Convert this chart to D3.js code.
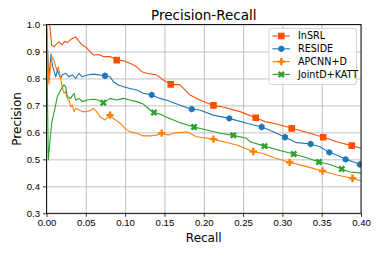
<!DOCTYPE html>
<html>
<head>
<meta charset="utf-8">
<script src="https://d3js.org/d3.v7.min.js"></script>
<style>
  body { margin: 0; background: #fff; }
  svg { font-family: "DejaVu Sans", sans-serif; }
  .grid line { stroke: #b0b0b0; stroke-width: 0.8; }
  .grid .domain { stroke: none; }
  .axis text { font-size: 9.6px; fill: #000; }
  .axis line { stroke: #000; stroke-width: 0.8; }
  .axis .domain { stroke: none; }
</style>
</head>
<body>
<svg id="chart" width="382" height="254"></svg>
<script>
// series data: [recall, precision]
const seriesNames = ['InSRL', 'RESIDE', 'APCNN+D', 'JointD+KATT'];
const seriesColors = ['#ff4f00', '#1f77b4', '#ff7f0e', '#2ca02c'];
const seriesSymbols = ['square', 'hexagon', 'plus', 'x'];

const insrl = [[0,1.0],[0.004,1.0],[0.0066,0.923],[0.0095,0.917],[0.013,0.929],[0.0159,0.935],[0.0201,0.925],
  [0.0231,0.938],[0.0265,0.933],[0.0308,0.945],[0.0371,0.954],[0.0404,0.941],[0.0455,0.923],[0.0499,0.917],
  [0.054,0.904],[0.0595,0.887],[0.0659,0.889],[0.0722,0.881],[0.0808,0.881],[0.0893,0.868],[0.0977,0.866],
  [0.1062,0.856],[0.1147,0.843],[0.1211,0.825],[0.1274,0.819],[0.1402,0.813],[0.1486,0.794],[0.158,0.778],
  [0.1698,0.776],[0.1825,0.739],[0.195,0.720],[0.2124,0.700],[0.2245,0.694],[0.2462,0.677],[0.2661,0.654],
  [0.2779,0.640],[0.2881,0.635],[0.3119,0.615],[0.3352,0.597],[0.352,0.582],[0.3691,0.565],[0.3882,0.551],[0.4,0.541]];
const insrlMarks = [[0.0893,0.868],[0.158,0.778],[0.2124,0.700],[0.2661,0.654],[0.3119,0.615],[0.352,0.582],[0.3882,0.551]];

const reside = [[0,1.0],[0.003,0.794],[0.0057,0.891],[0.0074,0.850],[0.0117,0.806],[0.0138,0.831],[0.018,0.800],
  [0.020,0.813],[0.0244,0.819],[0.0286,0.806],[0.0328,0.813],[0.0371,0.800],[0.0413,0.819],[0.0455,0.806],
  [0.0519,0.813],[0.0604,0.816],[0.0744,0.810],[0.0808,0.806],[0.085,0.788],[0.0913,0.776],[0.0977,0.769],
  [0.1062,0.763],[0.1147,0.757],[0.1231,0.745],[0.1338,0.739],[0.1444,0.726],[0.1549,0.717],[0.1698,0.701],
  [0.1847,0.686],[0.195,0.683],[0.2121,0.664],[0.2325,0.652],[0.2546,0.634],[0.2737,0.620],[0.2885,0.602],
  [0.3033,0.582],[0.3182,0.562],[0.336,0.557],[0.3479,0.547],[0.3597,0.526],[0.3691,0.516],[0.3805,0.500],
  [0.3924,0.488],[0.4,0.479]];
const resideMarks = [[0.0744,0.810],[0.1338,0.739],[0.1847,0.686],[0.2325,0.652],[0.2737,0.620],[0.3033,0.582],
  [0.336,0.557],[0.3597,0.526],[0.3805,0.500],[0.3985,0.481]];

const apcnn = [[0,1.0],[0.003,0.78],[0.0066,0.881],[0.0095,0.868],[0.013,0.831],[0.015,0.843],[0.018,0.800],
  [0.020,0.769],[0.0223,0.745],[0.0244,0.751],[0.0265,0.726],[0.0286,0.720],[0.0308,0.695],[0.0328,0.701],
  [0.035,0.677],[0.0371,0.689],[0.0413,0.683],[0.0455,0.677],[0.0511,0.677],[0.0562,0.681],[0.0595,0.689],
  [0.0638,0.677],[0.068,0.658],[0.0744,0.646],[0.0808,0.664],[0.085,0.652],[0.0935,0.634],[0.0998,0.615],
  [0.1062,0.602],[0.1147,0.597],[0.1231,0.587],[0.1316,0.587],[0.1402,0.590],[0.1465,0.597],[0.1549,0.590],
  [0.1613,0.597],[0.1783,0.602],[0.191,0.584],[0.199,0.581],[0.2124,0.575],[0.2249,0.565],[0.2419,0.553],
  [0.263,0.529],[0.2757,0.522],[0.2885,0.507],[0.3093,0.489],[0.331,0.473],[0.351,0.457],[0.3691,0.442],
  [0.3892,0.430],[0.4,0.420]];
const apcnnMarks = [[0.0808,0.664],[0.1465,0.597],[0.2124,0.575],[0.263,0.529],[0.3093,0.489],[0.351,0.457],[0.3892,0.430]];

const jointd = [[0,1.0],[0.0023,0.498],[0.0045,0.572],[0.0066,0.634],[0.0108,0.690],[0.0137,0.732],[0.018,0.757],
  [0.0223,0.776],[0.0244,0.769],[0.0265,0.732],[0.0308,0.726],[0.035,0.745],[0.0371,0.720],[0.0413,0.726],
  [0.0455,0.714],[0.0519,0.720],[0.0604,0.723],[0.0655,0.720],[0.0723,0.710],[0.0808,0.726],[0.0893,0.720],
  [0.0977,0.726],[0.1062,0.720],[0.1147,0.714],[0.1231,0.705],[0.1316,0.683],[0.1367,0.674],[0.1444,0.668],
  [0.1529,0.656],[0.1698,0.636],[0.1876,0.620],[0.2038,0.609],[0.2208,0.597],[0.2376,0.589],[0.2546,0.578],
  [0.2589,0.565],[0.2773,0.549],[0.297,0.533],[0.3144,0.520],[0.331,0.506],[0.3466,0.490],[0.3606,0.481],
  [0.3755,0.464],[0.3861,0.453],[0.4,0.449]];
const jointdMarks = [[0.0723,0.710],[0.1367,0.674],[0.1876,0.620],[0.2376,0.589],[0.2773,0.549],[0.3144,0.520],
  [0.3466,0.490],[0.3755,0.464]];

const xTicks = [0, 0.05, 0.1, 0.15, 0.2, 0.25, 0.3, 0.35, 0.4];
const yTicks = [0.3, 0.4, 0.5, 0.6, 0.7, 0.8, 0.9, 1.0];

const allLines = [insrl, reside, apcnn, jointd];
const allMarks = [insrlMarks, resideMarks, apcnnMarks, jointdMarks];

const svg = d3.select('#chart');
const margins = {left: 46.5, top: 24.5, right: 21, bottom: 40.7};
const chartWidth = 382 - margins.left - margins.right;
const chartHeight = 254 - margins.top - margins.bottom;

const x = d3.scaleLinear().domain([0, 0.4]).range([0, chartWidth]);
const y = d3.scaleLinear().domain([0.3, 1.0]).range([chartHeight, 0]);

const chart = svg.append('g').attr('transform', `translate(${margins.left},${margins.top})`);

// gridlines
chart.append('g').attr('class', 'grid')
  .call(d3.axisLeft(y).tickValues(yTicks).tickSize(-chartWidth).tickFormat(''));
chart.append('g').attr('class', 'grid')
  .attr('transform', `translate(0,${chartHeight})`)
  .call(d3.axisBottom(x).tickValues(xTicks).tickSize(-chartHeight).tickFormat(''));

svg.append('clipPath').attr('id', 'clip')
  .append('rect').attr('width', chartWidth).attr('height', chartHeight);

const plot = chart.append('g').attr('clip-path', 'url(#clip)');
const line = d3.line().x(d => x(d[0])).y(d => y(d[1]));

function symbolPath(kind, s) {
  if (kind === 'square') return d3.symbol(d3.symbolSquare, s * 1.45)();
  if (kind === 'plus') return d3.symbol(d3.symbolCross, s * 1.0)();
  if (kind === 'x') return d3.symbol(d3.symbolCross, s * 1.0)();
  // hexagon
  const r = Math.sqrt(s / 2.6);
  const pts = d3.range(6).map(i => {
    const a = Math.PI / 3 * i + Math.PI / 6;
    return [r * Math.cos(a), r * Math.sin(a)];
  });
  return 'M' + pts.map(p => p.join(',')).join('L') + 'Z';
}

allLines.forEach((data, i) => {
  plot.append('path').datum(data)
    .attr('d', line)
    .attr('fill', 'none')
    .attr('stroke', seriesColors[i])
    .attr('stroke-width', 1.1)
    .attr('stroke-linejoin', 'round');
});
allMarks.forEach((marks, i) => {
  plot.selectAll(null).data(marks).enter().append('path')
    .attr('d', symbolPath(seriesSymbols[i], 30))
    .attr('transform', d => `translate(${x(d[0])},${y(d[1])})` + (seriesSymbols[i] === 'x' ? ' rotate(45)' : ''))
    .attr('fill', seriesColors[i]);
});

// frame
chart.append('rect').attr('width', chartWidth).attr('height', chartHeight)
  .attr('fill', 'none').attr('stroke', '#000').attr('stroke-width', 0.9);

// axes
chart.append('g').attr('class', 'axis')
  .call(d3.axisLeft(y).tickValues(yTicks).tickSize(3.5).tickPadding(3).tickFormat(d3.format('.1f')));
chart.append('g').attr('class', 'axis')
  .attr('transform', `translate(0,${chartHeight})`)
  .call(d3.axisBottom(x).tickValues(xTicks).tickSize(3.5).tickPadding(2.5).tickFormat(d3.format('.2f')));

svg.append('text').attr('x', margins.left + chartWidth / 2).attr('y', 20)
  .attr('text-anchor', 'middle').attr('font-size', 13.5).text('Precision-Recall');
svg.append('text').attr('x', margins.left + chartWidth / 2).attr('y', 241.5)
  .attr('text-anchor', 'middle').attr('font-size', 12).text('Recall');
svg.append('text').attr('transform', `translate(21,${margins.top + chartHeight / 2}) rotate(-90)`)
  .attr('text-anchor', 'middle').attr('font-size', 12).text('Precision');

// legend
const legend = svg.append('g').attr('transform', 'translate(269,28.5)');
legend.append('rect').attr('width', 87.5).attr('height', 56).attr('rx', 2.5)
  .attr('fill', 'rgba(255,255,255,0.8)').attr('stroke', '#cccccc').attr('stroke-width', 0.8);
seriesNames.forEach((name, i) => {
  const ly = 7.5 + i * 12.8;
  legend.append('line').attr('x1', 3.5).attr('x2', 21).attr('y1', ly).attr('y2', ly)
    .attr('stroke', seriesColors[i]).attr('stroke-width', 1.1);
  legend.append('path').attr('d', symbolPath(seriesSymbols[i], 30))
    .attr('transform', `translate(12.3,${ly})` + (seriesSymbols[i] === 'x' ? ' rotate(45)' : ''))
    .attr('fill', seriesColors[i]);
  legend.append('text').attr('x', 29).attr('y', ly).attr('dy', '0.35em')
    .attr('font-size', 9.6).text(name);
});
</script>
</body>
</html>
